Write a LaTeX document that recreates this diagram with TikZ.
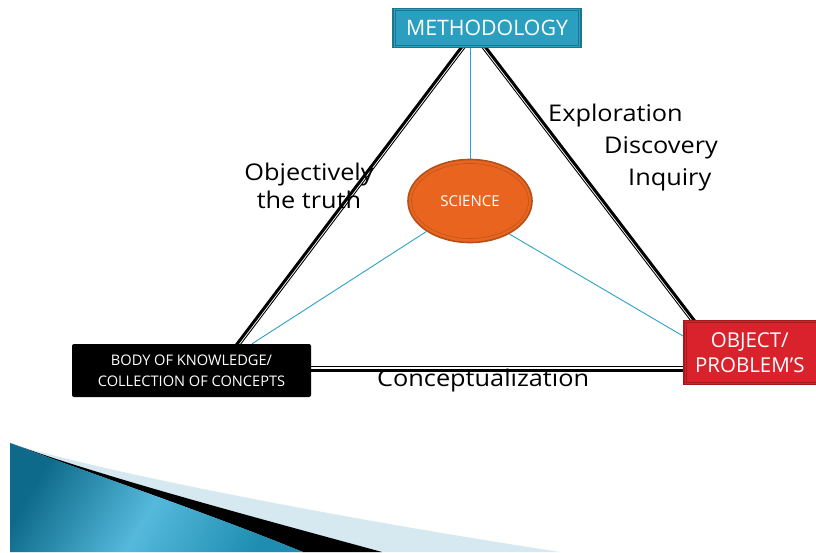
\documentclass[tikz,border=0pt]{standalone}
\usepackage{fontspec}
\setmainfont{Open Sans}
\newfontfamily\widefont[FakeStretch=1.1]{Open Sans}
\usetikzlibrary{shapes.geometric}
\definecolor{methfill}{HTML}{2B9FBF}
\definecolor{methline}{HTML}{1D7690}
\definecolor{objfill}{HTML}{D9222B}
\definecolor{objline}{HTML}{A8161E}
\definecolor{scifill}{HTML}{E9651F}
\definecolor{sciline}{HTML}{B5501A}
\definecolor{thinblue}{HTML}{2AA3C8}
\definecolor{paleblue}{HTML}{D6E9F1}
\definecolor{darkteal}{HTML}{0E6A8A}
\definecolor{lightteal}{HTML}{55B9DC}
\definecolor{midteal}{HTML}{1E8DB0}
\tikzset{
  thickedge/.style={line width=3pt, black},
  thinedge/.style={line width=0.9pt, black},
  blueedge/.style={line width=0.9pt, thinblue},
  lbl/.style={font=\widefont\fontsize{23}{28}\selectfont, text=black, inner sep=0pt},
}
\begin{document}
\begin{tikzpicture}[x=1pt,y=-1pt]
\useasboundingbox (0,0) rectangle (816,552);
\clip (0,0) rectangle (816,552);
\fill[white] (0,0) rectangle (816,552);

% bottom swoosh
\fill[paleblue] (10,443) .. controls (80,466) and (300,512) .. (560,552) -- (10,552) -- cycle;
\fill[black] (10,443) .. controls (100,476) and (250,516) .. (382,552) -- (303,552) .. controls (200,510) and (80,470) .. (10,443) -- cycle;
\shade[left color=darkteal, right color=midteal, middle color=lightteal, shading angle=60]
  (10,443) .. controls (80,470) and (200,510) .. (303,552) -- (10,552) -- cycle;

% anchor coordinates of the triangle
\coordinate (mL) at (467,40);
\coordinate (bL) at (234,348);
\coordinate (mR) at (480,40);
\coordinate (oR) at (697,324);
\coordinate (bB) at (305,370);
\coordinate (oB) at (690,370);
\coordinate (mLi) at (469.4,41.8);
\coordinate (bLi) at (236.4,349.8);
\coordinate (mRi) at (477.6,41.8);
\coordinate (oRi) at (694.6,325.8);
\coordinate (bBi) at (305,366.8);
\coordinate (oBi) at (690,366.8);

% double-ruled triangle edges
\draw[thickedge] (mL) -- (bL);
\draw[thinedge] (mLi) -- (bLi);
\draw[thickedge] (mR) -- (oR);
\draw[thinedge] (mRi) -- (oRi);
\draw[thickedge] (bB) -- (oB);
\draw[thinedge] (bBi) -- (oBi);

% nodes
\node[ellipse, minimum width=124pt, minimum height=83pt, fill=scifill, draw=sciline, line width=1.6pt,
      text=white, font=\fontsize{15}{17}\selectfont, inner sep=0pt] (sci) at (470,201) {SCIENCE};
\draw[sciline!80!scifill, line width=0.6pt] (sci.center) ellipse (58.5pt and 37.5pt);

\node[fill=methfill, draw=methline, line width=1.6pt, minimum width=188pt, minimum height=39pt,
      text=white, font=\fontsize{21.3}{24}\selectfont, inner sep=0pt] (meth) at (487,28) {METHODOLOGY};
\draw[methline, line width=0.7pt] ([shift={(3,3)}]meth.north west) rectangle ([shift={(-3,-3)}]meth.south east);

\node[fill=black, rounded corners=2pt, minimum width=239pt, minimum height=53pt, align=center,
      text=white, font=\fontsize{14.6}{21}\selectfont, inner sep=0pt] (body) at (191.5,370.5)
      {BODY OF KNOWLEDGE/\\COLLECTION OF CONCEPTS};

\node[fill=objfill, draw=objline, line width=1.6pt, minimum width=140pt, minimum height=64pt, align=center,
      text=white, font=\fontsize{20.5}{25}\selectfont, inner sep=0pt, anchor=west] (obj) at (683,352.5)
      {\hspace*{-8pt}OBJECT/\\\hspace*{-8pt}PROBLEM’S};
\draw[objline, line width=0.7pt] ([shift={(3,3)}]obj.north west) rectangle ([shift={(-3,-3)}]obj.south east);

% thin blue spokes
\draw[blueedge] (meth.south -| 470,0) -- (sci.north);
\draw[blueedge] (sci.215) -- (body.north -| 252,0);
\draw[blueedge] (sci.320) -- (obj.west |- 0,336);

% labels
\node[lbl, align=center] (objl) at (309,186) {Objectively\\the truth};
\node[lbl, anchor=west] (expl) at (548,116) {Exploration};
\node[lbl, anchor=west] (disc) at (604,148) {Discovery};
\node[lbl, anchor=west] (inq) at (628,180) {Inquiry};
\node[lbl, anchor=west] (conc) at (377,381) {Conceptualization};
\end{tikzpicture}
\end{document}
